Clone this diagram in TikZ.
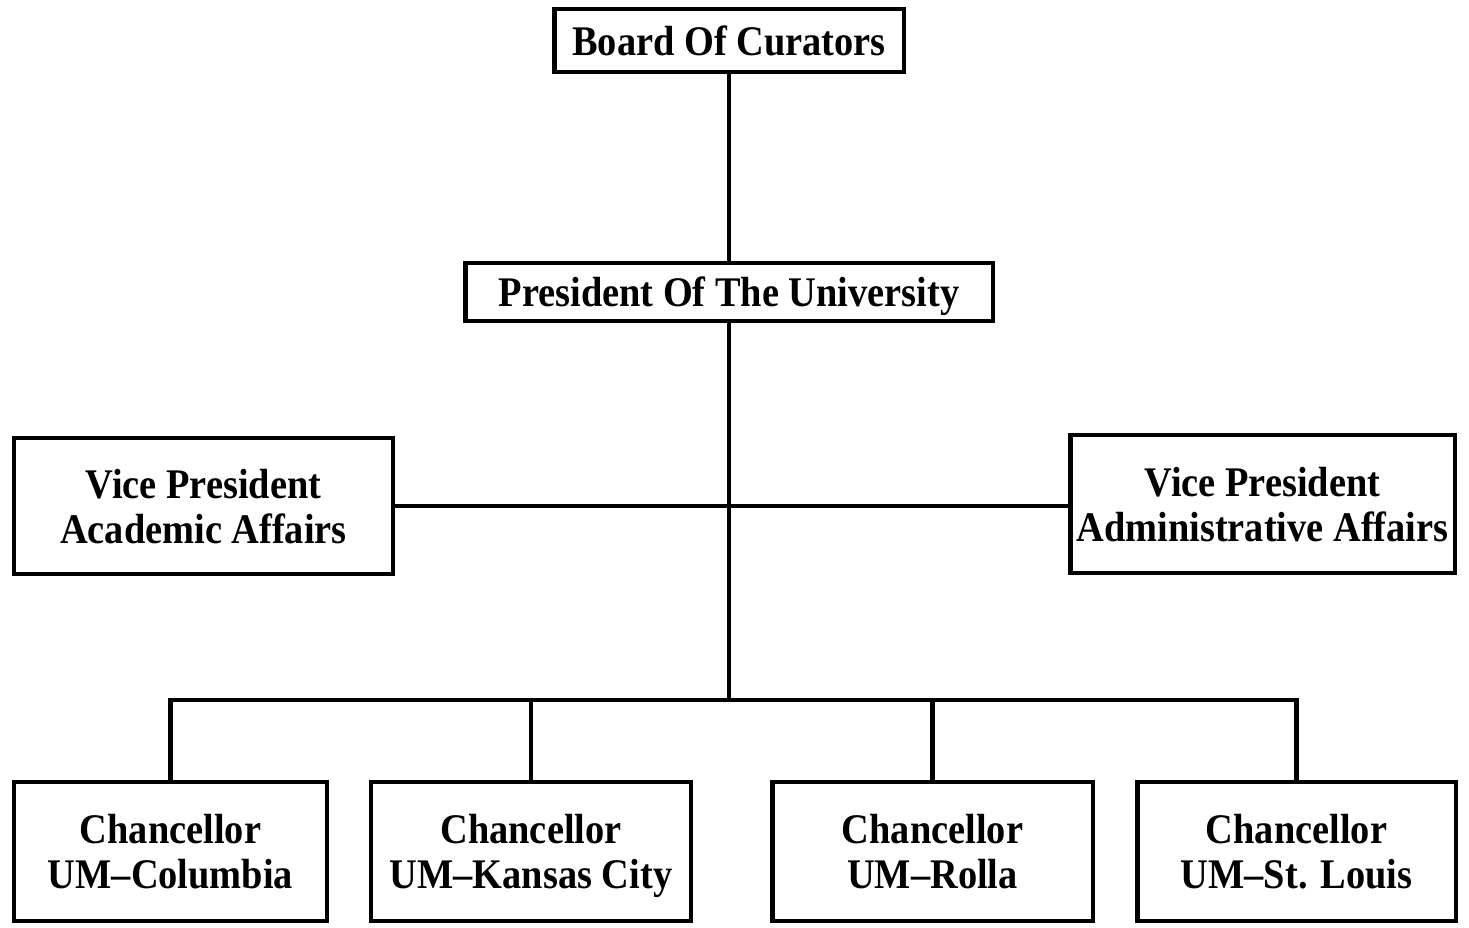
\documentclass[tikz,border=0pt]{standalone}
\usepackage{fontspec}
\setmainfont{Liberation Serif}[FakeStretch=0.91]
\usetikzlibrary{positioning}
\begin{document}
\begin{tikzpicture}[x=0.02cm,y=-0.02cm,line width=2.8pt,
  unit/.style={draw,line width=2.8pt,align=center,inner sep=0pt,text depth=0pt,font=\fontsize{24}{25.5}\selectfont\bfseries},
  chanc/.style={unit,minimum height=2.78cm}]
  \useasboundingbox (0,0) rectangle (1469,927);
  % top of the chart
  \node[unit,minimum width=7cm,minimum height=1.26cm] (board) at (729,40.5) {Board Of Curators};
  \node[unit,minimum width=10.56cm,minimum height=1.16cm] (pres) at (729,292) {President Of The University};
  % vice presidents
  \node[unit,minimum width=7.58cm,minimum height=2.72cm] (vpacad) at (203.5,506) {Vice President\\Academic Affairs};
  \node[unit,minimum width=7.7cm,minimum height=2.76cm] (vpadm) at (1262.5,504) {Vice President\\Administrative Affairs};
  % chancellors
  \node[chanc,minimum width=6.26cm] (ch1) at (170.5,851.5) {Chancellor\\UM--Columbia};
  \node[chanc,minimum width=6.4cm] (ch2) at (531,851.5) {Chancellor\\UM--Kansas City};
  \node[chanc,minimum width=6.42cm] (ch3) at (932.5,851.5) {Chancellor\\UM--Rolla};
  \node[chanc,minimum width=6.38cm] (ch4) at (1296.5,851.5) {Chancellor\\UM--St. Louis};
  \coordinate (bus) at (729,700);
  % connectors
  \draw (board) -- (pres);
  \draw (pres.south) -- (bus);
  \draw (vpacad.east) -- (vpacad.east -| vpadm.west);
  \draw (ch1.north) |- (bus) -| (ch4.north);
  \foreach \c in {ch2,ch3} {\draw (\c.north) -- (\c.north |- bus);}
\end{tikzpicture}
\end{document}
